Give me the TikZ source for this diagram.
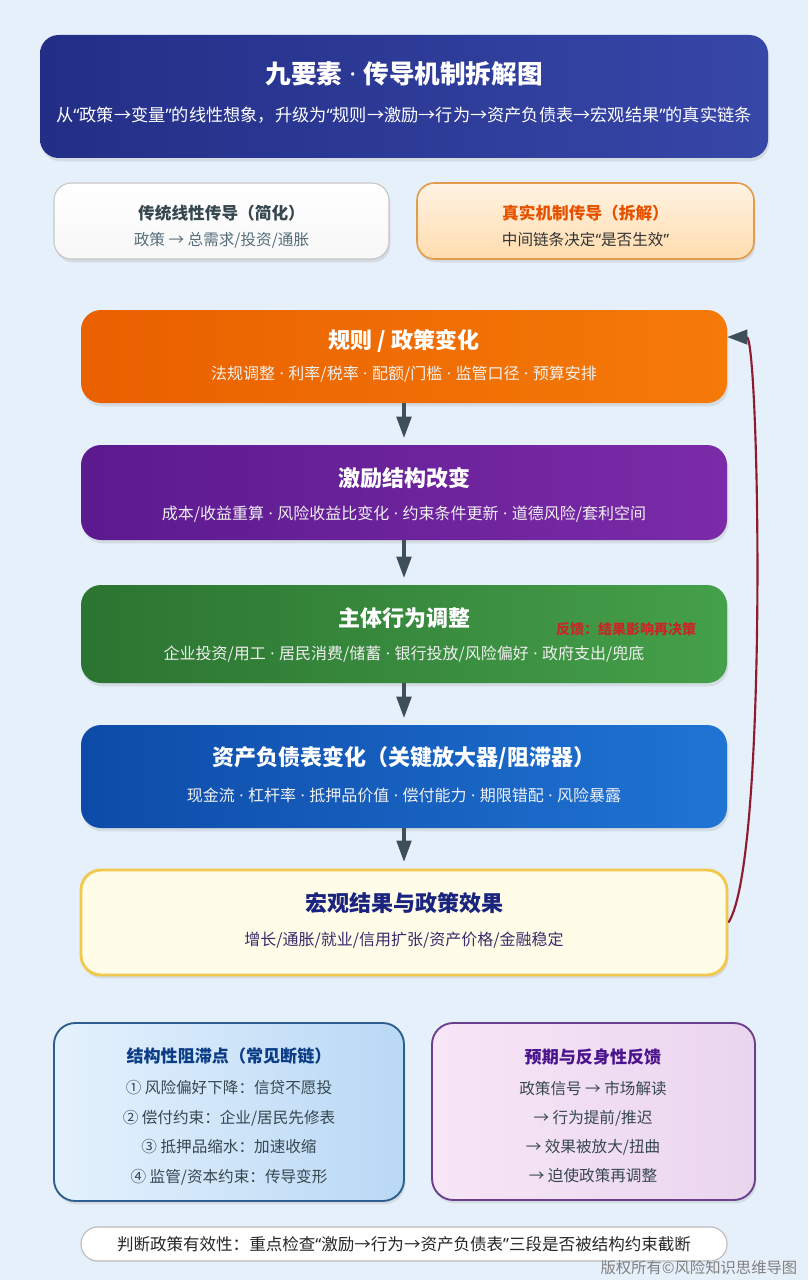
\documentclass[tikz,border=0pt]{standalone}
\usepackage{fontspec}
\setmainfont{Noto Sans CJK SC}
\newfontfamily\lat{Noto Sans}
\newcommand{\mdot}{\hspace{0.28em}{\lat ·}\hspace{0.28em}}
\newcommand{\qo}{{\lat “}}
\newcommand{\qc}{{\lat ”}}
\usetikzlibrary{arrows.meta,shadows,fit}
\definecolor{bg}{HTML}{E6F0FA}
\definecolor{hdrL}{HTML}{232E86}
\definecolor{hdrR}{HTML}{3747A8}
\definecolor{orgL}{HTML}{E96000}
\definecolor{orgR}{HTML}{F57A08}
\definecolor{purL}{HTML}{5C1A8F}
\definecolor{purR}{HTML}{7B2BA8}
\definecolor{grnL}{HTML}{2B7431}
\definecolor{grnR}{HTML}{45A04A}
\definecolor{bluL}{HTML}{0E4BA8}
\definecolor{bluR}{HTML}{1F74D4}
\definecolor{cream}{HTML}{FFFDE8}
\definecolor{creamB}{HTML}{F0C94E}
\definecolor{arrowgray}{HTML}{3F4F5A}
\definecolor{fbred}{HTML}{8E1B30}
\definecolor{labelred}{HTML}{C62828}
\definecolor{navy}{HTML}{1A237E}
\definecolor{darktxt}{HTML}{37474F}
\definecolor{subgray}{HTML}{546E7A}
\definecolor{orangeT}{HTML}{E65100}
\definecolor{ltorgT}{HTML}{FFF3E3}
\definecolor{ltorgB}{HTML}{FFDCAE}
\definecolor{ltorgD}{HTML}{E39A4A}
\definecolor{ltbluA}{HTML}{E5F2FD}
\definecolor{ltbluB}{HTML}{B9D8F5}
\definecolor{ltbluD}{HTML}{2E5E8E}
\definecolor{ltpurA}{HTML}{F7E6F6}
\definecolor{ltpurB}{HTML}{EAD5EF}
\definecolor{ltpurD}{HTML}{6A3F8C}
\definecolor{purT}{HTML}{4A148C}
\definecolor{subpur}{HTML}{3B2A6B}
\begin{document}
\begin{tikzpicture}[x=0.75pt,y=-0.75pt,
  shadowed/.style={drop shadow={opacity=0.18,shadow xshift=1pt,shadow yshift=-2.5pt}},
  box/.style={rectangle, rounded corners=15pt, inner sep=0pt, shadowed},
  mainttl/.style={font=\fontsize{16.5}{19}\selectfont\bfseries, text=white},
  mainsub/.style={font=\fontsize{12}{14}\selectfont, text=white!94!black},
  smallttl/.style={font=\fontsize{12.5}{15}\selectfont\bfseries},
  smallsub/.style={font=\fontsize{11.7}{14}\selectfont},
  flow/.style={draw=arrowgray, line width=2.4pt, -{Triangle[width=11pt,length=16pt]}, shorten >=5pt},
  fb/.style={draw=fbred, line width=1.6pt, -{Triangle[width=11pt,length=15pt,color=arrowgray]}}
]
\fill[bg] (0,0) rectangle (808,1280);
\useasboundingbox (0,0) rectangle (808,1280);

% header
\node[box, rounded corners=14pt, left color=hdrL, right color=hdrR, fit={(40,35)(768,158)}] (hdr) {};
\node[font=\fontsize{19.2}{22}\selectfont\bfseries, text=white] (hdrt) at (404,74) {九要素\mdot 传导机制拆解图};
\node[font=\fontsize{12.9}{15}\selectfont, text=white] (hdrs) at (404,115) {从\qo 政策→变量\qc 的线性想象，升级为\qo 规则→激励→行为→资产负债表→宏观结果\qc 的真实链条};

% two compare boxes
\node[box, rounded corners=13pt, top color=white, bottom color=white!94!gray, draw=gray!45, line width=0.8pt, fit={(54,183)(389,259)}] (trad) {};
\node[smallttl, text=darktxt] (tradt) at (221.5,213) {传统线性传导（简化）};
\node[smallsub, text=subgray] (trads) at (221.5,240) {政策 → 总需求/投资/通胀};
\node[box, rounded corners=13pt, top color=ltorgT, bottom color=ltorgB, draw=ltorgD, line width=1.2pt, fit={(417,183)(754,259)}] (real) {};
\node[smallttl, text=orangeT] (realt) at (585.5,213) {真实机制传导（拆解）};
\node[smallsub, text=black!80] (reals) at (585.5,240) {中间链条决定\qo 是否生效\qc};

% main chain
\node[box, left color=orgL, right color=orgR, fit={(81,310)(727,403)}] (r1) {};
\node[mainttl] (r1t) at (404,341) {规则 / 政策变化};
\node[mainsub] (r1s) at (404,374) {法规调整\mdot 利率/税率\mdot 配额/门槛\mdot 监管口径\mdot 预算安排};

\node[box, left color=purL, right color=purR, fit={(81,445)(727,540)}] (r2) {};
\node[mainttl] (r2t) at (404,478) {激励结构改变};
\node[mainsub] (r2s) at (404,514) {成本/收益重算\mdot 风险收益比变化\mdot 约束条件更新\mdot 道德风险/套利空间};

\node[box, left color=grnL, right color=grnR, fit={(81,585)(727,683)}] (r3) {};
\node[mainttl] (r3t) at (404,618) {主体行为调整};
\node[mainsub] (r3s) at (404,654) {企业投资/用工\mdot 居民消费/储蓄\mdot 银行投放/风险偏好\mdot 政府支出/兜底};

\node[box, left color=bluL, right color=bluR, fit={(81,725)(727,828)}] (r4) {};
\node[mainttl] (r4t) at (404,758) {资产负债表变化（关键放大器/阻滞器）};
\node[mainsub] (r4s) at (404,795) {现金流\mdot 杠杆率\mdot 抵押品价值\mdot 偿付能力\mdot 期限错配\mdot 风险暴露};

\node[box, fill=cream, draw=creamB, line width=2.2pt, fit={(81,870)(727,975)}] (r5) {};
\node[mainttl, text=navy] (r5t) at (404,903) {宏观结果与政策效果};
\node[mainsub, text=subpur] (r5s) at (404,940) {增长/通胀/就业/信用扩张/资产价格/金融稳定};

\draw[flow] (r1) -- (r2);
\draw[flow] (r2) -- (r3);
\draw[flow] (r3) -- (r4);
\draw[flow] (r4) -- (r5);

% feedback
\draw[fb] (r5.east) .. controls +(40,-62) and +(32,0) .. ([yshift=14.6pt]r1.east);
\node[font=\fontsize{10.5}{12}\selectfont\bfseries, text=labelred] (fbl) at (626,629) {反馈：结果影响再决策};

% bottom boxes
\node[box, rounded corners=16pt, left color=ltbluA, right color=ltbluB, draw=ltbluD, line width=1.4pt, fit={(54,1023)(404,1201)}] (blk) {};
\node[smallttl, font=\fontsize{12.8}{15}\selectfont\bfseries, text=bluL!80!black] (blkt) at (229,1056) {结构性阻滞点（常见断链）};
\node[smallsub, text=darktxt] (blk1) at (229,1088) {① 风险偏好下降：信贷不愿投};
\node[smallsub, text=darktxt] (blk2) at (229,1118) {② 偿付约束：企业/居民先修表};
\node[smallsub, text=darktxt] (blk3) at (229,1147) {③ 抵押品缩水：加速收缩};
\node[smallsub, text=darktxt] (blk4) at (229,1177) {④ 监管/资本约束：传导变形};

\node[box, rounded corners=16pt, left color=ltpurA, right color=ltpurB, draw=ltpurD, line width=1.4pt, fit={(432,1023)(755,1200)}] (exp) {};
\node[smallttl, font=\fontsize{12.8}{15}\selectfont\bfseries, text=purT] (expt) at (593,1057) {预期与反身性反馈};
\node[smallsub, text=darktxt] (exp1) at (593,1089) {政策信号 → 市场解读};
\node[smallsub, text=darktxt] (exp2) at (593,1118) {→ 行为提前/推迟};
\node[smallsub, text=darktxt] (exp3) at (593,1147) {→ 效果被放大/扭曲};
\node[smallsub, text=darktxt] (exp4) at (593,1176) {→ 迫使政策再调整};

% footer
\node[rectangle, rounded corners=12.5pt, inner sep=0pt, fill=white, draw=gray!55, line width=0.8pt, fit={(81,1227)(727,1261)}] (foot) {};
\node[font=\fontsize{12.4}{14}\selectfont, text=black!85] (foott) at (404,1244) {判断政策有效性：重点检查\qo 激励→行为→资产负债表\qc 三段是否被结构约束截断};
\node[font=\fontsize{11.5}{13}\selectfont, text=gray, anchor=east] (wm) at (802,1268) {版权所有©风险知识思维导图};
\end{tikzpicture}
\end{document}
